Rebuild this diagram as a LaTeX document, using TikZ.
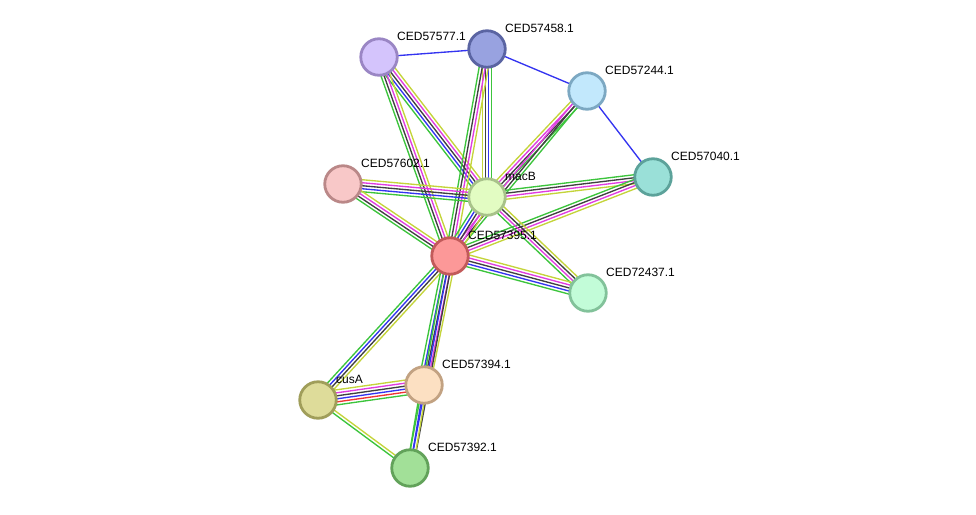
\documentclass[tikz,border=0pt]{standalone}
\usepackage{fontspec}
\setmainfont{Liberation Sans}
\usetikzlibrary{calc,backgrounds}
% evidence colours
\definecolor{evgreen}{HTML}{3CC43C}
\definecolor{evyel}{HTML}{C4D43A}
\definecolor{evblack}{HTML}{404040}
\definecolor{evmag}{HTML}{E03CE0}
\definecolor{evblue}{HTML}{3434F0}
\definecolor{evred}{HTML}{F03434}
% node colours (fill / rim)
\definecolor{f577}{HTML}{D4C4FC}\definecolor{d577}{HTML}{9A86C4}
\definecolor{f458}{HTML}{98A2E0}\definecolor{d458}{HTML}{5A64A2}
\definecolor{f244}{HTML}{C2E8FC}\definecolor{d244}{HTML}{7CA8C2}
\definecolor{f040}{HTML}{9AE0D8}\definecolor{d040}{HTML}{5CA29A}
\definecolor{f602}{HTML}{F8C8C8}\definecolor{d602}{HTML}{BA8888}
\definecolor{fmac}{HTML}{E2FCC2}\definecolor{dmac}{HTML}{A8C28A}
\definecolor{f395}{HTML}{FC9898}\definecolor{d395}{HTML}{C25A5A}
\definecolor{f437}{HTML}{C2FCD8}\definecolor{d437}{HTML}{82C29A}
\definecolor{fcus}{HTML}{DEDC9A}\definecolor{dcus}{HTML}{A09E5A}
\definecolor{f394}{HTML}{FCE0C2}\definecolor{d394}{HTML}{C2A282}
\definecolor{f392}{HTML}{A2E098}\definecolor{d392}{HTML}{62A25A}
\tikzset{
  prot/.style={circle,minimum size=36.5pt,inner sep=0pt,line width=2.8pt},
  plbl/.style={anchor=west,inner sep=0pt,font=\fontsize{12}{14}\selectfont},
  evline/.style={line width=1.35pt},
}
\newcommand{\protein}[5]{%
  \node[prot,fill=#3,draw=#4] (#1) at (#2) {};
  \node[plbl] (#1-lbl) at ($(#1.center)+(18,-21)$) {#5};}
\newcommand{\stredge}[4]{%
  \foreach \col [count=\i] in {#4}{%
    \pgfmathsetmacro{\off}{(\i-(#3+1)/2)*3.0}
    \draw[evline,draw=\col] ($(#1.center)!\off pt!90:(#2.center)$) -- ($(#2.center)!\off pt!-90:(#1.center)$);
  }}
\begin{document}
\begin{tikzpicture}[x=1pt,y=-1pt]
\useasboundingbox (0,0) rectangle (976,514);
\protein{p577}{379,57}{f577}{d577}{CED57577.1}
\protein{p458}{487,49}{f458}{d458}{CED57458.1}
\protein{p244}{587,91}{f244}{d244}{CED57244.1}
\protein{p040}{653,177}{f040}{d040}{CED57040.1}
\protein{p602}{343,184}{f602}{d602}{CED57602.1}
\protein{macB}{487,197}{fmac}{dmac}{macB}
\protein{p395}{450,256}{f395}{d395}{CED57395.1}
\protein{p437}{588,293}{f437}{d437}{CED72437.1}
\protein{cusA}{318,400}{fcus}{dcus}{cusA}
\protein{p394}{424,385}{f394}{d394}{CED57394.1}
\protein{p392}{410,468}{f392}{d392}{CED57392.1}
\begin{pgfonlayer}{background}
\stredge{p577}{p458}{1}{evblue}
\stredge{p458}{p244}{1}{evblue}
\stredge{p244}{p040}{1}{evblue}
\stredge{p577}{macB}{5}{evgreen,evblue,evblack,evmag,evyel}
\stredge{p577}{p395}{4}{evgreen,evblack,evmag,evyel}
\stredge{p458}{macB}{4}{evyel,evblack,evblue,evgreen}
\stredge{p458}{p395}{4}{evgreen,evblack,evmag,evyel}
\stredge{p244}{macB}{4}{evyel,evmag,evblack,evgreen}
\stredge{p244}{p395}{3}{evmag,evblack,evgreen}
\stredge{p602}{macB}{5}{evgreen,evblue,evblack,evmag,evyel}
\stredge{p602}{p395}{4}{evgreen,evblack,evmag,evyel}
\stredge{macB}{p040}{4}{evyel,evmag,evblack,evgreen}
\stredge{p395}{p040}{4}{evyel,evmag,evblack,evgreen}
\stredge{macB}{p395}{5}{evgreen,evblue,evblack,evmag,evyel}
\stredge{macB}{p437}{4}{evgreen,evmag,evblack,evyel}
\stredge{p395}{p437}{5}{evgreen,evblue,evblack,evmag,evyel}
\stredge{p395}{cusA}{4}{evgreen,evblue,evblack,evyel}
\stredge{p395}{p394}{5}{evgreen,evblue,evblack,evmag,evyel}
\stredge{p395}{p392}{3}{evgreen,evblue,evblack}
\stredge{cusA}{p394}{6}{evgreen,evred,evblue,evblack,evmag,evyel}
\stredge{cusA}{p392}{2}{evgreen,evyel}
\stredge{p394}{p392}{3}{evgreen,evblue,evyel}
\end{pgfonlayer}
\end{tikzpicture}
\end{document}
